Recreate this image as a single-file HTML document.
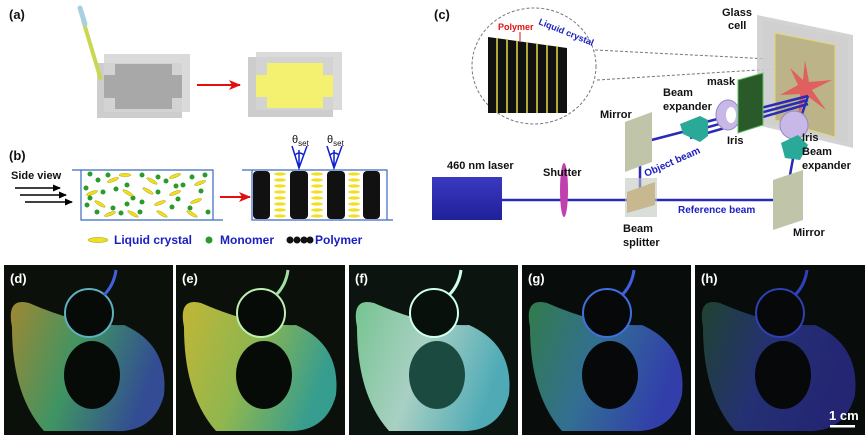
<!DOCTYPE html>
<html><head><meta charset="utf-8"><style>
html,body{margin:0;padding:0;background:#fff;}
svg{display:block;font-family:"Liberation Sans",Arial,sans-serif;}
.b{font-weight:bold;font-size:11px;fill:#111;}
.lab{font-weight:bold;font-size:13px;fill:#111;}
.w{font-weight:bold;font-size:13px;fill:#fff;}
</style></head><body>
<svg width="865" height="435" viewBox="0 0 865 435" xmlns="http://www.w3.org/2000/svg">
<defs>
<marker id="ar" markerUnits="userSpaceOnUse" markerWidth="12" markerHeight="10" refX="11" refY="5" orient="auto"><path d="M0,0 L12,5 L0,10 L3,5Z" fill="#e01010"/></marker>
<marker id="ak" markerUnits="userSpaceOnUse" markerWidth="8" markerHeight="7" refX="7" refY="3.5" orient="auto"><path d="M0,0 L8,3.5 L0,7Z" fill="#000"/></marker>
<linearGradient id="gd" x1="0" x2="1" y1="0" y2="0.3"><stop offset="0" stop-color="#d0b040"/><stop offset="0.5" stop-color="#50c080"/><stop offset="1" stop-color="#4060c0"/></linearGradient>
<linearGradient id="ge" x1="0" x2="1" y1="0" y2="0.3"><stop offset="0" stop-color="#f0e040"/><stop offset="0.5" stop-color="#b0e060"/><stop offset="1" stop-color="#40c0b0"/></linearGradient>
<linearGradient id="gf" x1="0" x2="1" y1="0" y2="0.3"><stop offset="0" stop-color="#90f0b0"/><stop offset="0.5" stop-color="#d0fff0"/><stop offset="1" stop-color="#60d0e0"/></linearGradient>
<linearGradient id="gg" x1="0" x2="1" y1="0" y2="0.3"><stop offset="0" stop-color="#40a060"/><stop offset="0.5" stop-color="#4090c0"/><stop offset="1" stop-color="#4050e0"/></linearGradient>
<linearGradient id="gh" x1="0" x2="1" y1="0" y2="0.3"><stop offset="0" stop-color="#2a5a40"/><stop offset="0.5" stop-color="#3040a0"/><stop offset="1" stop-color="#3030a0"/></linearGradient>
<linearGradient id="las" x1="0" y1="0" x2="0" y2="1"><stop offset="0" stop-color="#3a3ac0"/><stop offset="1" stop-color="#20209a"/></linearGradient>
</defs>

<!-- (a) -->
<text x="9" y="19" class="lab">(a)</text>
<rect x="97" y="63" width="85" height="55" fill="#c8c8c8" opacity="0.9"/>
<rect x="104" y="54" width="86" height="58" fill="#d4d4d4" opacity="0.85"/>
<path d="M115,64 H172 V75 H182 V98 H172 V109 H115 V98 H104 V75 H115Z" fill="#a8a8a8"/>
<line x1="83" y1="20" x2="101" y2="80" stroke="#c8d850" stroke-width="4"/>
<line x1="80" y1="8" x2="85" y2="24" stroke="#a8d0e0" stroke-width="5" stroke-linecap="round"/>
<line x1="197" y1="85" x2="240" y2="85" stroke="#e01010" stroke-width="2" marker-end="url(#ar)"/>
<rect x="248" y="57" width="85" height="60" fill="#c8c8c8" opacity="0.9"/>
<rect x="256" y="52" width="86" height="58" fill="#d4d4d4" opacity="0.85"/>
<path d="M267,63 H323 V75 H333 V97 H323 V108 H267 V97 H256 V75 H267Z" fill="#f4f070"/>

<!-- (b) -->
<text x="9" y="160" class="lab">(b)</text>
<text x="11" y="179" class="b" font-size="12">Side view</text>
<line x1="15" y1="188" x2="60" y2="188" stroke="#000" stroke-width="1.5" marker-end="url(#ak)"/>
<line x1="20" y1="195" x2="66" y2="195" stroke="#000" stroke-width="1.5" marker-end="url(#ak)"/>
<line x1="25" y1="202" x2="72" y2="202" stroke="#000" stroke-width="1.5" marker-end="url(#ak)"/>
<g stroke="#3a6ac0" stroke-width="1.2" fill="none">
<path d="M72,170 H213 V220 M81,170 V220 H223"/>
<path d="M242,170 H387 V220 M252,170 V220 H393"/>
</g>
<g fill="#2a9a2a">
<circle cx="90" cy="174" r="2.5"/><circle cx="108" cy="175" r="2.5"/><circle cx="98" cy="180" r="2.5"/><circle cx="142" cy="175" r="2.5"/><circle cx="158" cy="177" r="2.5"/><circle cx="192" cy="177" r="2.5"/><circle cx="205" cy="175" r="2.5"/><circle cx="127" cy="185" r="2.5"/><circle cx="166" cy="181" r="2.5"/><circle cx="176" cy="186" r="2.5"/><circle cx="183" cy="185" r="2.5"/><circle cx="86" cy="188" r="2.5"/><circle cx="103" cy="192" r="2.5"/><circle cx="116" cy="189" r="2.5"/><circle cx="158" cy="192" r="2.5"/><circle cx="201" cy="191" r="2.5"/><circle cx="90" cy="198" r="2.5"/><circle cx="133" cy="198" r="2.5"/><circle cx="142" cy="202" r="2.5"/><circle cx="178" cy="199" r="2.5"/><circle cx="87" cy="205" r="2.5"/><circle cx="127" cy="204" r="2.5"/><circle cx="172" cy="207" r="2.5"/><circle cx="97" cy="212" r="2.5"/><circle cx="113" cy="208" r="2.5"/><circle cx="121" cy="213" r="2.5"/><circle cx="140" cy="212" r="2.5"/><circle cx="208" cy="212" r="2.5"/><circle cx="190" cy="208" r="2.5"/>
</g>
<g fill="#f0e020" stroke="#a09000" stroke-width="0.4">
<ellipse cx="125" cy="175" rx="6" ry="1.6"/><ellipse cx="175" cy="176" rx="6" ry="1.6" transform="rotate(-20 175 176)"/><ellipse cx="113" cy="180" rx="6" ry="1.6" transform="rotate(-20 113 180)"/><ellipse cx="152" cy="181" rx="6" ry="1.6" transform="rotate(30 152 181)"/><ellipse cx="200" cy="183" rx="6" ry="1.6" transform="rotate(-20 200 183)"/><ellipse cx="92" cy="193" rx="6" ry="1.6" transform="rotate(-20 92 193)"/><ellipse cx="128" cy="193" rx="6" ry="1.6" transform="rotate(30 128 193)"/><ellipse cx="148" cy="191" rx="6" ry="1.6" transform="rotate(30 148 191)"/><ellipse cx="175" cy="193" rx="6" ry="1.6" transform="rotate(-20 175 193)"/><ellipse cx="100" cy="204" rx="6" ry="1.6" transform="rotate(30 100 204)"/><ellipse cx="160" cy="203" rx="6" ry="1.6" transform="rotate(-20 160 203)"/><ellipse cx="196" cy="201" rx="6" ry="1.6" transform="rotate(-20 196 201)"/><ellipse cx="110" cy="214" rx="6" ry="1.6" transform="rotate(-20 110 214)"/><ellipse cx="133" cy="214" rx="6" ry="1.6" transform="rotate(30 133 214)"/><ellipse cx="162" cy="214" rx="6" ry="1.6" transform="rotate(30 162 214)"/><ellipse cx="192" cy="214" rx="6" ry="1.6" transform="rotate(30 192 214)"/>
</g>
<line x1="220" y1="197" x2="250" y2="197" stroke="#e01010" stroke-width="2" marker-end="url(#ar)"/>
<g fill="#111">
<rect x="253" y="171" width="17" height="48" rx="4"/><rect x="290" y="171" width="18" height="48" rx="4"/><rect x="327" y="171" width="18" height="48" rx="4"/><rect x="363" y="171" width="17" height="48" rx="4"/>
</g>
<g fill="#f0e020">
<ellipse cx="280" cy="174" rx="6" ry="1.6"/><ellipse cx="280" cy="180" rx="6" ry="1.6"/><ellipse cx="280" cy="186" rx="6" ry="1.6"/><ellipse cx="280" cy="192" rx="6" ry="1.6"/><ellipse cx="280" cy="198" rx="6" ry="1.6"/><ellipse cx="280" cy="204" rx="6" ry="1.6"/><ellipse cx="280" cy="210" rx="6" ry="1.6"/><ellipse cx="280" cy="216" rx="6" ry="1.6"/>
<ellipse cx="317" cy="174" rx="6" ry="1.6"/><ellipse cx="317" cy="180" rx="6" ry="1.6"/><ellipse cx="317" cy="186" rx="6" ry="1.6"/><ellipse cx="317" cy="192" rx="6" ry="1.6"/><ellipse cx="317" cy="198" rx="6" ry="1.6"/><ellipse cx="317" cy="204" rx="6" ry="1.6"/><ellipse cx="317" cy="210" rx="6" ry="1.6"/><ellipse cx="317" cy="216" rx="6" ry="1.6"/>
<ellipse cx="354" cy="174" rx="6" ry="1.6"/><ellipse cx="354" cy="180" rx="6" ry="1.6"/><ellipse cx="354" cy="186" rx="6" ry="1.6"/><ellipse cx="354" cy="192" rx="6" ry="1.6"/><ellipse cx="354" cy="198" rx="6" ry="1.6"/><ellipse cx="354" cy="204" rx="6" ry="1.6"/><ellipse cx="354" cy="210" rx="6" ry="1.6"/><ellipse cx="354" cy="216" rx="6" ry="1.6"/>
</g>
<text x="292" y="143" font-size="11" fill="#111">θ<tspan font-size="8" dy="3">set</tspan></text>
<text x="327" y="143" font-size="11" fill="#111">θ<tspan font-size="8" dy="3">set</tspan></text>
<g stroke="#1020d0" stroke-width="1.5" fill="none">
<path d="M292,146 L299,168 L307,146 M299,150 V168"/><path d="M327,146 L334,168 L342,146 M334,150 V168"/>
<path d="M295,155 Q299,151 304,155"/><path d="M330,155 Q334,151 339,155"/>
</g>
<ellipse cx="98" cy="240" rx="10" ry="2.5" fill="#f0e020" stroke="#a09000" stroke-width="0.5"/>
<text x="114" y="244" font-size="12" font-weight="bold" fill="#1a20c0">Liquid crystal</text>
<circle cx="209" cy="240" r="3.5" fill="#2a9a2a"/>
<text x="220" y="244" font-size="12" font-weight="bold" fill="#1a20c0">Monomer</text>
<circle cx="290" cy="240" r="3.5" fill="#111"/><circle cx="297" cy="240" r="3.5" fill="#111"/><circle cx="304" cy="240" r="3.5" fill="#111"/><circle cx="310" cy="240" r="3.5" fill="#111"/>
<text x="315" y="244" font-size="12" font-weight="bold" fill="#1a20c0">Polymer</text>

<!-- (c) -->
<text x="434" y="19" class="lab">(c)</text>
<ellipse cx="534" cy="66" rx="62" ry="58" fill="#fff" stroke="#777" stroke-dasharray="3,2"/>
<line x1="595" y1="50" x2="790" y2="60" stroke="#777" stroke-dasharray="3,2"/>
<line x1="597" y1="80" x2="790" y2="68" stroke="#777" stroke-dasharray="3,2"/>
<path d="M488,37 L567,48 L567,113 L488,113Z" fill="#111"/>
<g stroke="#d8d040" stroke-width="1.6">
<line x1="497" y1="38" x2="497" y2="113"/><line x1="507" y1="39" x2="507" y2="113"/><line x1="517" y1="41" x2="517" y2="113"/><line x1="527" y1="42" x2="527" y2="113"/><line x1="537" y1="44" x2="537" y2="113"/><line x1="547" y1="45" x2="547" y2="113"/><line x1="557" y1="46" x2="557" y2="113"/>
</g>
<text x="498" y="30" font-size="9" font-weight="bold" fill="#e01010">Polymer</text>
<line x1="520" y1="32" x2="520" y2="41" stroke="#e01010"/>
<text x="538" y="24" font-size="9" font-weight="bold" fill="#1a20c0" transform="rotate(22 538 24)">Liquid crystal</text>
<path d="M757,15 L853,35 L853,148 L757,125Z" fill="#c8c8c8" opacity="0.8"/>
<path d="M763,20 L848,38 L848,143 L763,122Z" fill="#d0d0d0" opacity="0.8"/>
<path d="M775,33 L835,45 L835,137 L775,120Z" fill="#bcb488" stroke="#e0d870" stroke-width="1"/>
<path d="M805,60 L809,82 L832,80 L812,90 L826,110 L806,95 L798,120 L800,94 L780,95 L798,85 L790,68 L803,80Z" fill="#e06060"/>
<text x="722" y="16" class="b">Glass</text><text x="728" y="29" class="b">cell</text>
<g stroke="#2a2ab8" stroke-width="2.5" fill="none">
<path d="M502,200 H775"/>
<path d="M640,200 V143 L690,130"/>
<path d="M690,126 L808,96 M690,132 L808,100 M690,138 L808,104"/>
<path d="M790,175 L800,120 L808,96"/>
</g>
<text x="447" y="169" class="b">460 nm laser</text>
<rect x="432" y="177" width="70" height="43" fill="url(#las)"/>
<ellipse cx="564" cy="190" rx="4" ry="27" fill="#c040b0"/>
<text x="543" y="176" class="b">Shutter</text>
<path d="M625,178 L657,178 L657,217 L625,217Z" fill="#c0c8c0" opacity="0.6"/>
<path d="M627,192 L655,182 L655,205 L627,213Z" fill="#c8b890"/>
<text x="623" y="232" class="b">Beam</text><text x="623" y="246" class="b">splitter</text>
<path d="M625,122 L652,112 L652,162 L625,172Z" fill="#c0c4a8"/>
<text x="600" y="118" class="b">Mirror</text>
<path d="M773,180 L803,170 L803,220 L773,230Z" fill="#c0c4a8"/>
<text x="793" y="236" class="b">Mirror</text>
<path d="M680,124 L700,116 L708,120 L708,136 L700,142 L683,134Z" fill="#2aa898"/>
<text x="663" y="96" class="b">Beam</text><text x="663" y="110" class="b">expander</text>
<ellipse cx="728" cy="115" rx="12" ry="15" fill="#c8b8e8" stroke="#9888c0"/>
<ellipse cx="731" cy="115" rx="5" ry="8" fill="#fff"/>
<text x="727" y="144" class="b">Iris</text>
<path d="M738,80 L763,73 L763,125 L738,133Z" fill="#2a5a2a" stroke="#60c060"/>
<text x="707" y="85" class="b">mask</text>
<ellipse cx="794" cy="125" rx="14" ry="14" fill="#c8b8e8" stroke="#9888c0"/>
<path d="M781,143 L798,135 L808,145 L800,160 L785,158Z" fill="#2aa898"/>
<text x="802" y="141" class="b">Iris</text><text x="802" y="155" class="b">Beam</text><text x="802" y="169" class="b">expander</text>
<text x="646" y="177" font-size="10" font-weight="bold" fill="#1a20c0" transform="rotate(-24 646 177)">Object beam</text>
<text x="678" y="213" font-size="10" font-weight="bold" fill="#1a20c0">Reference beam</text>

<!-- photos -->
<g transform="translate(4,265)"><rect width="169" height="170" fill="#0b100b"/><path d="M8,62 Q2,32 25,38 Q80,62 120,60 Q165,80 160,130 Q150,168 110,166 L40,166 Q8,130 8,62Z" fill="url(#gd)" opacity="0.75"/><circle cx="85" cy="48" r="24" fill="#070b07" stroke="#60b0c0" stroke-width="2"/><ellipse cx="88" cy="110" rx="28" ry="34" fill="#070b07"/><path d="M100,30 Q110,20 112,5" stroke="#4060e0" stroke-width="3" fill="none"/><text x="6" y="18" class="w">(d)</text></g>
<g transform="translate(176,265)"><rect width="169" height="170" fill="#0b100b"/><path d="M8,62 Q2,32 25,38 Q80,62 120,60 Q165,80 160,130 Q150,168 110,166 L40,166 Q8,130 8,62Z" fill="url(#ge)" opacity="0.8"/><circle cx="85" cy="48" r="24" fill="#070b07" stroke="#c0f0b0" stroke-width="2"/><ellipse cx="88" cy="110" rx="28" ry="34" fill="#070b07"/><path d="M100,30 Q110,20 112,5" stroke="#a0e0a0" stroke-width="3" fill="none"/><text x="6" y="18" class="w">(e)</text></g>
<g transform="translate(349,265)"><rect width="169" height="170" fill="#0b140f"/><path d="M8,62 Q2,32 25,38 Q80,62 120,60 Q165,80 160,130 Q150,168 110,166 L40,166 Q8,130 8,62Z" fill="url(#gf)" opacity="0.8"/><circle cx="85" cy="48" r="24" fill="#07100b" stroke="#d0fff0" stroke-width="2"/><ellipse cx="88" cy="110" rx="28" ry="34" fill="#1a4a40"/><path d="M100,30 Q110,20 112,5" stroke="#d0fff0" stroke-width="3" fill="none"/><text x="6" y="18" class="w">(f)</text></g>
<g transform="translate(522,265)"><rect width="169" height="170" fill="#080c0a"/><path d="M8,62 Q2,32 25,38 Q80,62 120,60 Q165,80 160,130 Q150,168 110,166 L40,166 Q8,130 8,62Z" fill="url(#gg)" opacity="0.75"/><circle cx="85" cy="48" r="24" fill="#06080a" stroke="#4070e0" stroke-width="2"/><ellipse cx="88" cy="110" rx="28" ry="34" fill="#06080a"/><path d="M100,30 Q110,20 112,5" stroke="#4060e0" stroke-width="3" fill="none"/><text x="6" y="18" class="w">(g)</text></g>
<g transform="translate(695,265)"><rect width="170" height="170" fill="#080c0a"/><path d="M8,62 Q2,32 25,38 Q80,62 120,60 Q165,80 160,130 Q150,168 110,166 L40,166 Q8,130 8,62Z" fill="url(#gh)" opacity="0.7"/><circle cx="85" cy="48" r="24" fill="#06080a" stroke="#3040b0" stroke-width="2"/><ellipse cx="88" cy="110" rx="28" ry="34" fill="#06080a"/><path d="M100,30 Q110,20 112,5" stroke="#3040c0" stroke-width="3" fill="none"/><text x="6" y="18" class="w">(h)</text><text x="134" y="155" class="w" font-size="12">1 cm</text><rect x="135" y="160" width="25" height="2.5" fill="#fff"/></g>
</svg>
</body></html>
